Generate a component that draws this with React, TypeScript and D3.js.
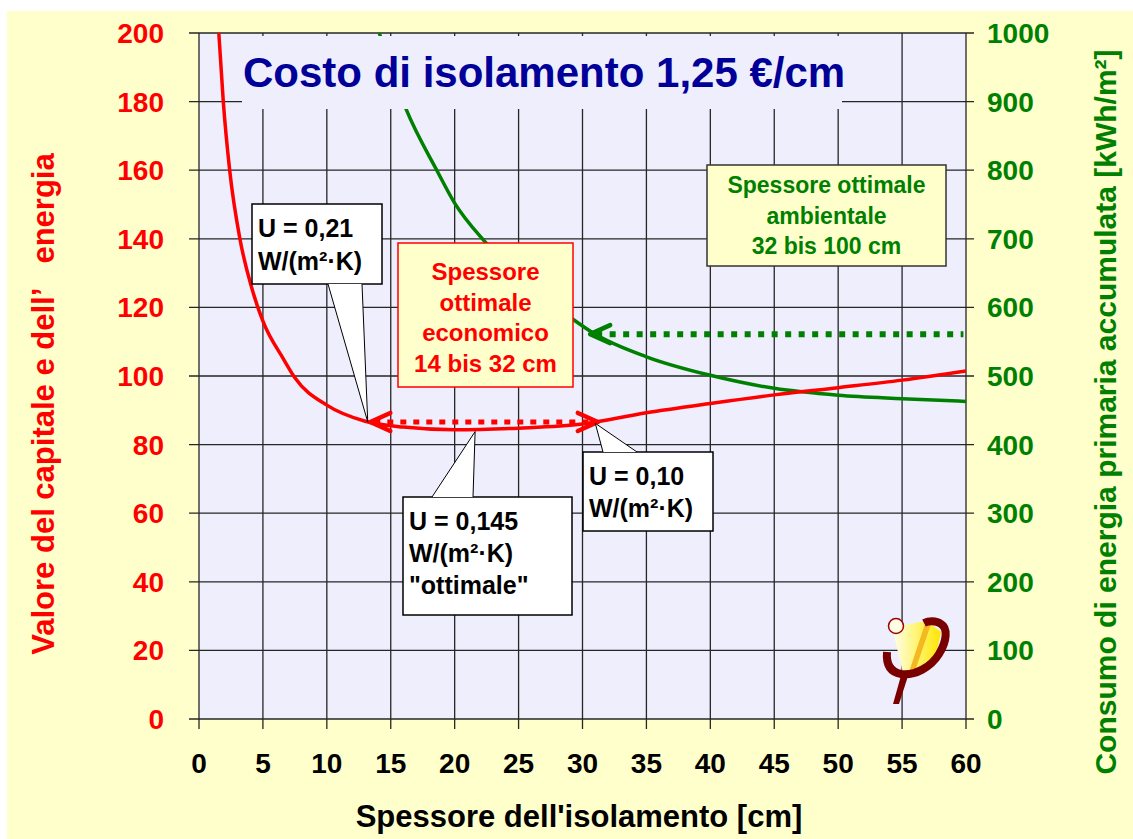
import React from 'react';
import * as d3 from 'd3';

// spessore [cm] vs valore del capitale e dell'energia (asse sinistro)
const costThickness = [1.55, 1.9, 2.4, 3.2, 4.1, 5, 6.6, 7.5, 10, 13, 16, 20, 25, 30, 35, 40, 45, 50, 55, 60];
const costValue = [200, 180, 160, 140, 126, 116, 105, 99.5, 91.5, 86.8, 85.1, 84.3, 84.8, 86, 89.3, 92, 94.5, 96.6, 98.8, 101.5];

// spessore [cm] vs consumo di energia primaria accumulata (asse destro)
const energyThickness = [14.1, 16.2, 18.6, 20, 22.4, 25, 29.3, 30.8, 35, 40, 45, 50, 55, 60];
const energyValue = [1000, 889, 800, 752, 695, 645, 582, 563, 528, 501, 482, 472, 467, 463];

const xTicks = [0, 5, 10, 15, 20, 25, 30, 35, 40, 45, 50, 55, 60];
const leftTicks = [0, 20, 40, 60, 80, 100, 120, 140, 160, 180, 200];
const rightTicks = [0, 100, 200, 300, 400, 500, 600, 700, 800, 900, 1000];

// range of the optimal economic thickness and the ambient arrow
const ecoRange = [13.4, 31.2];
const ecoLevel = 86.6;
const ambientRange = [30.6, 59.8];
const ambientLevel = 561;

const FONT = "Arial, 'Liberation Sans', sans-serif";
const RED = '#ff0000';
const GREEN = '#008000';
const GRID = '#262626';

const W = 1133;
const H = 839;

function ArrowHead({ tx, ty, dir, color }: { tx: number; ty: number; dir: number; color: string }) {
  const len = 20;
  const spread = 9;
  return (
    <path
      d={`M${tx + dir * len},${ty - spread} L${tx},${ty} L${tx + dir * len},${ty + spread}`}
      fill="none"
      stroke={color}
      strokeWidth={4.5}
      strokeLinejoin="round"
      strokeLinecap="round"
    />
  );
}

function Callout({ box, base, tip, lines, lineGap }: {
  box: [number, number, number, number];
  base: [number, number, number];
  tip: [number, number];
  lines: string[];
  lineGap: number;
}) {
  const [bx, by, bw, bh] = box;
  const [b1, b2, baseY] = base;
  return (
    <g>
      <rect x={bx} y={by} width={bw} height={bh} fill="#fff" stroke="#000" strokeWidth={1.5} />
      <path d={`M${b1},${baseY} L${tip[0]},${tip[1]} L${b2},${baseY} Z`} fill="#fff" stroke="none" />
      <path d={`M${b1},${baseY} L${tip[0]},${tip[1]} L${b2},${baseY}`} fill="none" stroke="#000" strokeWidth={1} />
      {lines.map((t, i) => (
        <text key={i} x={bx + 6} y={by + 33 + i * lineGap} fontSize={25} fontWeight="bold" fill="#000" fontFamily={FONT}>
          {t}
        </text>
      ))}
    </g>
  );
}

export default function App() {
  const x = d3.scaleLinear().domain([0, 60]).range([199, 966]);
  const yL = d3.scaleLinear().domain([0, 200]).range([719, 33]);
  const yR = d3.scaleLinear().domain([0, 1000]).range([719, 33]);

  const [x0, x1] = x.range();
  const [yb, yt] = yL.range();

  const costLine = d3
    .line<number>()
    .x((d) => x(d))
    .y((_, i) => yL(costValue[i]))
    .curve(d3.curveMonotoneX)(costThickness);

  const energyLine = d3
    .line<number>()
    .x((d) => x(d))
    .y((_, i) => yR(energyValue[i]))
    .curve(d3.curveMonotoneX)(energyThickness);

  const ecoY = yL(ecoLevel);
  const ambY = yR(ambientLevel);

  return (
    <svg width={W} height={H} style={{ position: 'absolute', left: 0, top: 0 }}>
      <defs>
        <clipPath id="plot">
          <rect x={x0} y={yt} width={x1 - x0} height={yb - yt} />
        </clipPath>
        <linearGradient id="cone" x1="0" y1="0" x2="1" y2="0">
          <stop offset="0%" stopColor="#fffff0" />
          <stop offset="45%" stopColor="#fff680" />
          <stop offset="100%" stopColor="#ffe600" />
        </linearGradient>
      </defs>

      <rect x={0} y={0} width={W} height={H} fill="#fff" />
      <rect x={7} y={11} width={W - 7} height={H - 11} fill="#ffffcc" />
      <rect x={x0} y={yt} width={x1 - x0} height={yb - yt} fill="#eeeefd" />

      {/* grid */}
      {xTicks.map((t) => (
        <line key={'vx' + t} x1={x(t)} x2={x(t)} y1={yt} y2={yb + 10} stroke={GRID} strokeWidth={1.3} />
      ))}
      {leftTicks.map((t) => (
        <line key={'hy' + t} x1={x0 - 10} x2={x1 + 8} y1={yL(t)} y2={yL(t)} stroke={GRID} strokeWidth={1.3} />
      ))}

      {/* curves */}
      <g clipPath="url(#plot)">
        <path d={energyLine || ''} fill="none" stroke={GREEN} strokeWidth={3.5} />
        <path d={costLine || ''} fill="none" stroke={RED} strokeWidth={3.5} />
      </g>

      {/* title box */}
      <rect x={242} y={36} width={600} height={73} fill="#eeeefd" />
      <text x={243} y={87} fontSize={42} fontWeight="bold" fill="#000099" fontFamily={FONT}>
        Costo di isolamento 1,25 €/cm
      </text>

      {/* optimal economic range arrow */}
      <line x1={x(ecoRange[0]) + 4} x2={x(ecoRange[1]) - 4} y1={ecoY} y2={ecoY} stroke={RED} strokeWidth={5} strokeDasharray="6 7" />
      <ArrowHead tx={x(ecoRange[0])} ty={ecoY} dir={1} color={RED} />
      <ArrowHead tx={x(ecoRange[1])} ty={ecoY} dir={-1} color={RED} />

      {/* ambient arrow */}
      <line x1={x(ambientRange[0]) + 6} x2={x(ambientRange[1])} y1={ambY} y2={ambY} stroke={GREEN} strokeWidth={6} strokeDasharray="6 7.5" />
      <ArrowHead tx={x(ambientRange[0])} ty={ambY} dir={1} color={GREEN} />

      {/* red box */}
      <rect x={398} y={243} width={175} height={144} fill="#ffffcc" stroke={RED} strokeWidth={1.5} />
      {['Spessore', 'ottimale', 'economico', '14 bis 32 cm'].map((t, i) => (
        <text key={t} x={485.5} y={280 + i * 30.5} textAnchor="middle" fontSize={24} fontWeight="bold" fill={RED} fontFamily={FONT}>
          {t}
        </text>
      ))}

      {/* green box */}
      <rect x={707} y={165} width={239} height={101} fill="#ffffcc" stroke="#333" strokeWidth={1.5} />
      {['Spessore ottimale', 'ambientale', '32 bis 100 cm'].map((t, i) => (
        <text key={t} x={826.5} y={193 + i * 30.5} textAnchor="middle" fontSize={23} fontWeight="bold" fill={GREEN} fontFamily={FONT}>
          {t}
        </text>
      ))}

      {/* callouts */}
      <Callout
        box={[252, 204, 130, 80]}
        base={[328, 362, 284]}
        tip={[x(13.2), yL(86.6)]}
        lines={['U = 0,21', 'W/(m²·K)']}
        lineGap={33}
      />
      <Callout
        box={[403, 497, 169, 118]}
        base={[432, 473, 497]}
        tip={[x(21.6), yL(83.8)]}
        lines={['U = 0,145', 'W/(m²·K)', '"ottimale"']}
        lineGap={32}
      />
      <Callout
        box={[583, 452, 130, 79]}
        base={[603, 637, 452]}
        tip={[x(31), yL(86.2)]}
        lines={['U = 0,10', 'W/(m²·K)']}
        lineGap={32}
      />

      {/* logo */}
      <g>
        <path d="M892,627 L927,621 L941,632 L934,664 L903,673 Z" fill="url(#cone)" />
        <path d="M925,624 L931,624 L915,671 L909,672 Z" fill="#f5b820" />
        <path
          d="M887,652 C886,664 890,672 901,674 C915,676 931,667 939,654 C947,641 948,628 941,624 C936,620 928,621 924,623"
          fill="none"
          stroke="#7a0000"
          strokeWidth={8}
        />
        <path d="M893,704 L899,704 L909,673 L902,672 Z" fill="#7a0000" />
        <circle cx={896} cy={626} r={7.5} fill="#ffffe8" stroke="#a00000" strokeWidth={1.5} />
      </g>

      {/* tick labels */}
      {leftTicks.map((t) => (
        <text key={'l' + t} x={164} y={yL(t) + 10} textAnchor="end" fontSize={28} fontWeight="bold" fill={RED} fontFamily={FONT}>
          {t}
        </text>
      ))}
      {rightTicks.map((t) => (
        <text key={'r' + t} x={987} y={yR(t) + 10} textAnchor="start" fontSize={28} fontWeight="bold" fill={GREEN} fontFamily={FONT}>
          {t}
        </text>
      ))}
      {xTicks.map((t) => (
        <text key={'b' + t} x={x(t)} y={773} textAnchor="middle" fontSize={28} fontWeight="bold" fill="#000" fontFamily={FONT}>
          {t}
        </text>
      ))}

      {/* axis titles */}
      <text x={579} y={827} textAnchor="middle" fontSize={31} fontWeight="bold" fill="#000" fontFamily={FONT}>
        Spessore dell'isolamento [cm]
      </text>
      <text
        transform="translate(54,404) rotate(-90)"
        textAnchor="middle"
        fontSize={31}
        fontWeight="bold"
        fill={RED}
        fontFamily={FONT}
        style={{ whiteSpace: 'pre' }}
      >
        {'Valore del capitale e dell’   energia'}
      </text>
      <text
        transform="translate(1116,412) rotate(-90)"
        textAnchor="middle"
        fontSize={30}
        fontWeight="bold"
        fill={GREEN}
        fontFamily={FONT}
      >
        Consumo di energia primaria accumulata [kWh/m²]
      </text>
    </svg>
  );
}
